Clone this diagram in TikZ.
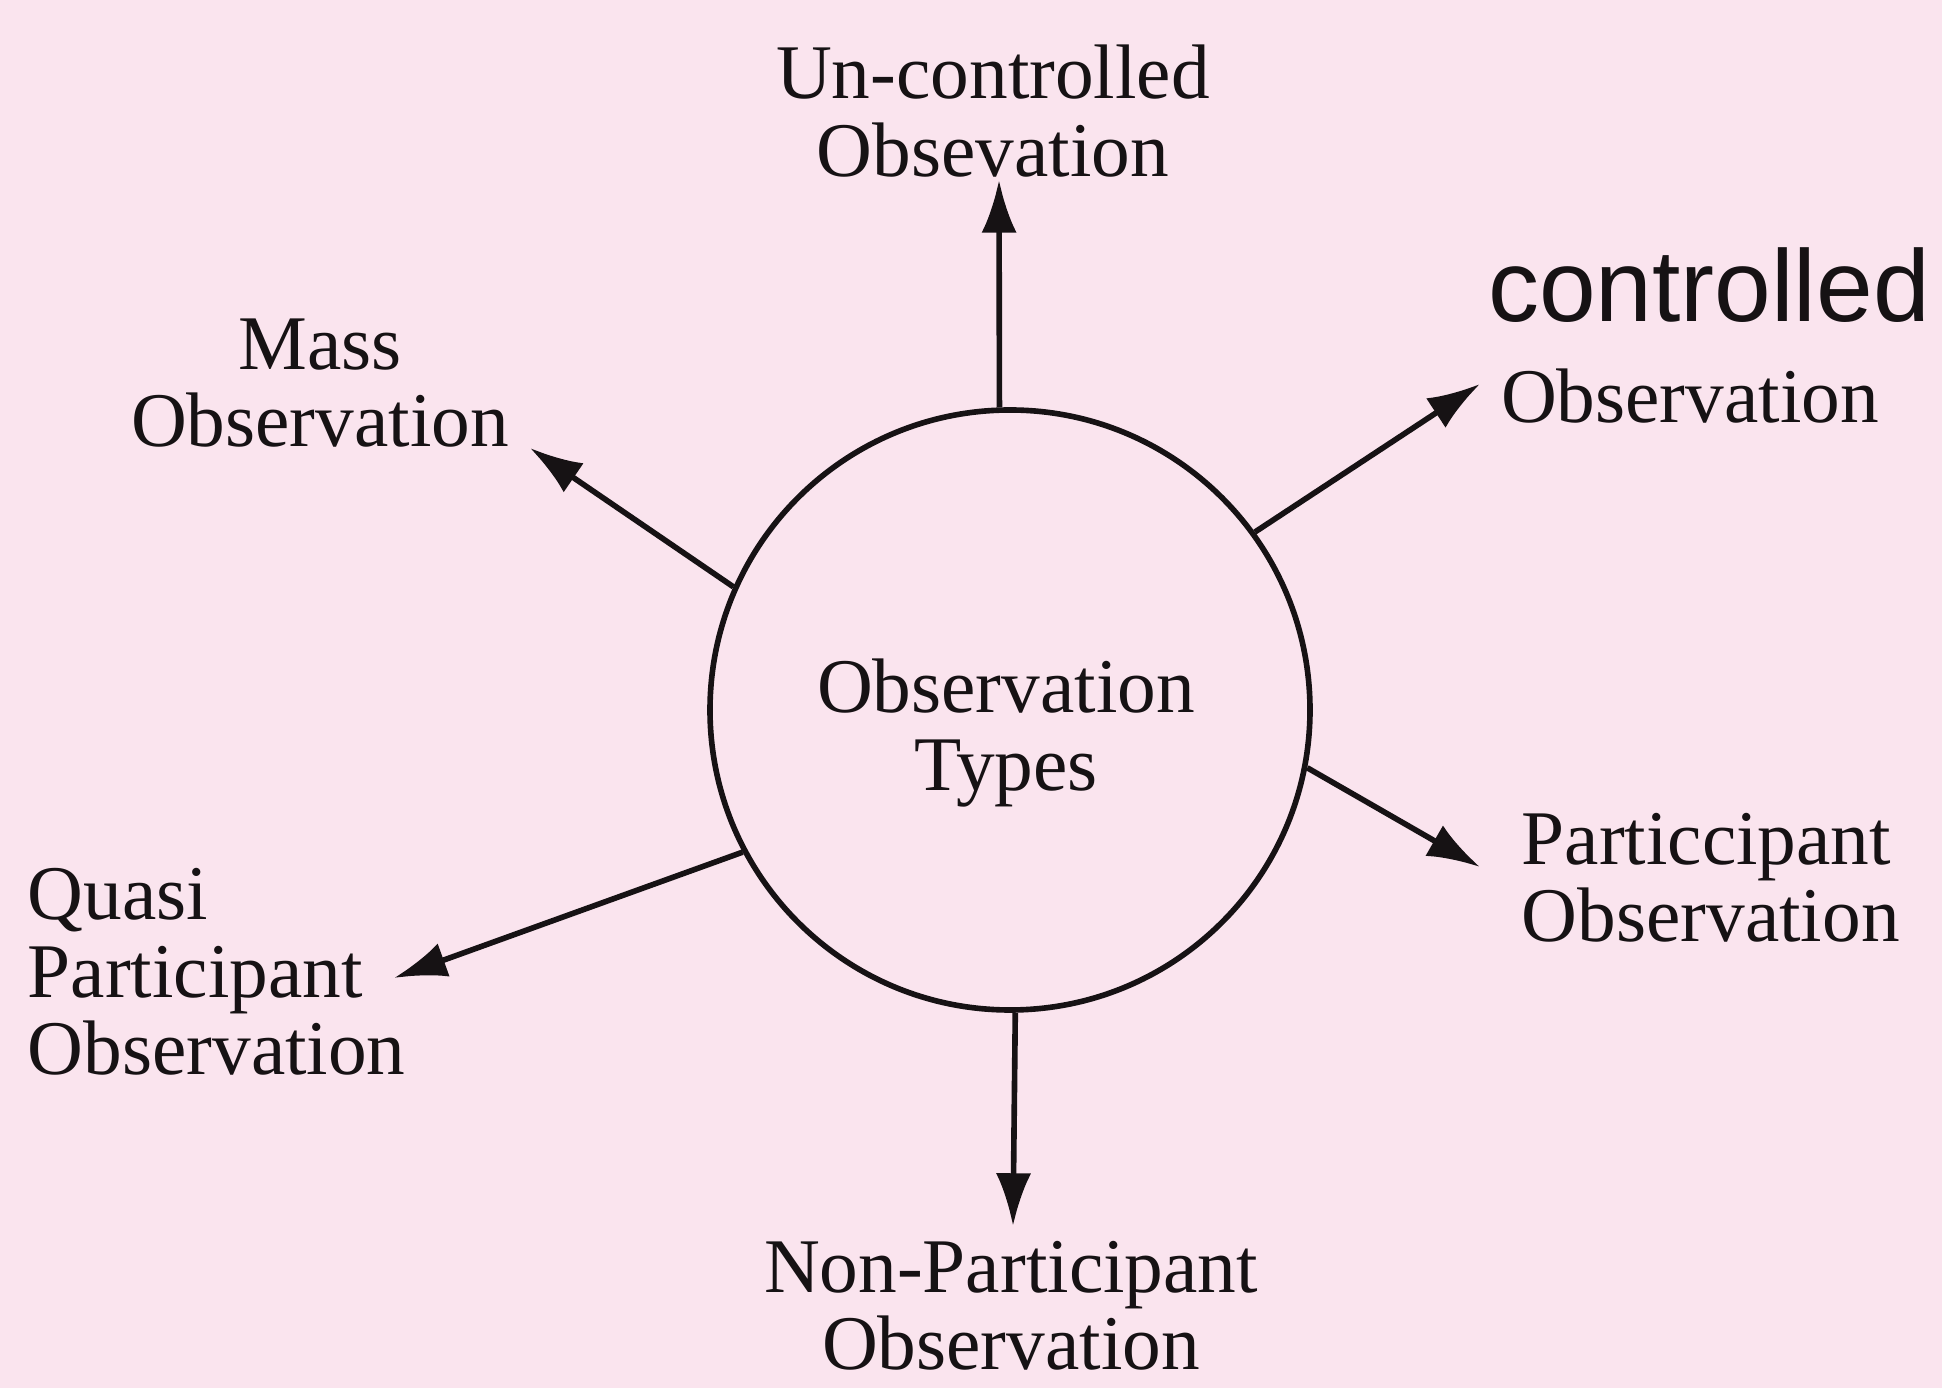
\documentclass[tikz,border=0pt]{standalone}
\usepackage{fontspec}
\setmainfont{Liberation Serif}
\newfontfamily\ctlfont{Liberation Sans}
\usetikzlibrary{arrows.meta}
\definecolor{bgpink}{RGB}{250,228,238}
\definecolor{ink}{RGB}{22,18,20}

\begin{document}
\begin{tikzpicture}[every node/.style={font=\fontsize{22}{22}\selectfont, text=ink, inner sep=0pt},
  arr/.style={-{Latex[length=15pt,width=10pt]}, line width=1.6pt, draw=ink}]

\fill[bgpink] (0,0) rectangle (19.42,13.88);
\useasboundingbox (0,0) rectangle (19.42,13.88);

\node[draw=ink, line width=1.6pt, circle, minimum size=6cm] (v0) at (10.10,6.78) {};
\node[align=center] (v1) at (10.06,6.55) {Observation\\Types};
\node[align=center] (v2) at (9.93,12.77) {Un-controlled\\Obsevation};
\node[align=center] (v3) at (3.20,10.05) {Mass\\Observation};
\node[font=\ctlfont\fontsize{29}{29}\selectfont] (v4) at (17.09,11.03) {controlled};
\node (v5) at (16.90,9.92) {Observation};
\node[align=left, anchor=west] (v6) at (15.21,5.10) {Particcipant\\Observation};
\node[align=center] (v7) at (10.11,0.82) {Non-Participant\\Observation};
\node[align=left, anchor=west] (v8) at (0.27,4.16) {Quasi\\Participant\\Observation};

\coordinate (v9) at (9.99,12.08);
\coordinate (v10) at (5.30,9.40);
\coordinate (v11) at (14.80,10.04);
\coordinate (v12) at (14.80,5.21);
\coordinate (v13) at (10.13,1.62);
\coordinate (v14) at (3.94,4.10);

\draw[arr] (v0.92) -- (v9);
\draw[arr] (v0.156.5) -- (v10);
\draw[arr] (v0.36) -- (v11);
\draw[arr] (v0.-11.5) -- (v12);
\draw[arr] (v0.-89.5) -- (v13);
\draw[arr] (v0.208) -- (v14);
\end{tikzpicture}
\end{document}
